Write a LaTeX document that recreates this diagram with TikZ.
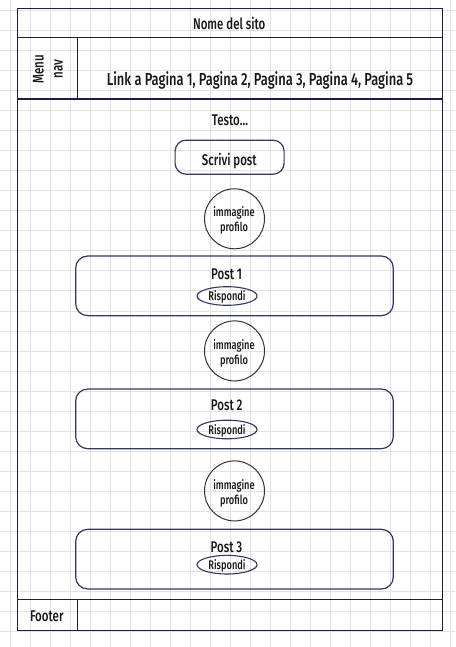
\documentclass[tikz,border=0pt]{standalone}
\usepackage{fontspec}
\setmainfont{Fira Sans}[UprightFont={* Medium}, FakeStretch=0.74]
\usetikzlibrary{shapes.geometric}
\definecolor{navy}{HTML}{1B1E48}
\definecolor{boxc}{HTML}{343860}
\definecolor{circc}{HTML}{333333}
\definecolor{gridc}{HTML}{E2E2E2}
\definecolor{txt}{HTML}{161616}
\tikzset{
  frame/.style={draw=navy, line width=1.3pt},
  gridline/.style={draw=gridc, line width=0.8pt},
  lbl/.style={inner sep=0pt, anchor=base, text=txt, font=\fontsize{15.5}{19}\selectfont},
  small/.style={inner sep=0pt, anchor=base, text=txt, font=\fontsize{12.5}{15}\selectfont},
  postbox/.style={draw=boxc, line width=1.2pt, rounded corners=12pt, minimum width=317.6pt, minimum height=59.7pt, inner sep=0pt},
  writebox/.style={draw=boxc, line width=1.2pt, rounded corners=11pt, minimum width=109pt, minimum height=34pt, inner sep=0pt},
  avatar/.style={draw=circc, line width=1pt, circle, minimum size=60pt, inner sep=0pt},
  reply/.style={draw=boxc, line width=1.1pt, ellipse, minimum width=60pt, minimum height=18.6pt, inner sep=0pt},
}
\begin{document}
\begin{tikzpicture}[x=1pt,y=-1pt]
\useasboundingbox (0,0) rectangle (455,647);
\fill[white] (0,0) rectangle (455,647);
% grid
\foreach \i in {0,...,22} \draw[gridline] (10+20*\i,0) -- (10+20*\i,647);
\foreach \j in {0,...,31} \draw[gridline] (0,10+20.06*\j) -- (455,10+20.06*\j);
% frame
\draw[frame] (17.5,8.3) rectangle (442.5,630.7);
\draw[frame] (17.5,37.7) -- (442.5,37.7);
\draw[frame] (17.5,99) -- (442.5,99);
\draw[frame] (77.3,37.7) -- (77.3,99);
\draw[frame] (17.5,599.3) -- (442.5,599.3);
\draw[frame] (77.3,599.3) -- (77.3,630.7);
% header texts
\node[lbl] (title) at (229.2,30) {Nome del sito};
\node[lbl, anchor=center, rotate=90, align=center, font=\fontsize{15.5}{19}\selectfont] (menu) at (48,69) {Menu\\nav};
\node[lbl, font=\fontsize{17.4}{20}\selectfont] (links) at (260,86) {Link a Pagina 1, Pagina 2, Pagina 3, Pagina 4, Pagina 5};
\node[lbl] (testo) at (230,125.7) {Testo...};
% write post
\node[writebox] (write) at (229.6,157.2) {};
\node[lbl] (writet) at (229.3,165) {Scrivi post};
% avatars
\node[avatar] (av1) at (234.5,218.8) {};
\node[small] (av1a) at (234,216.7) {immagine};
\node[small] (av1b) at (234,231.7) {profilo};
\node[avatar] (av2) at (234.5,350.9) {};
\node[small] (av2a) at (234,349.3) {immagine};
\node[small] (av2b) at (234,364) {profilo};
\node[avatar] (av3) at (234.5,490.9) {};
\node[small] (av3a) at (234,489.3) {immagine};
\node[small] (av3b) at (234,504) {profilo};
% posts
\node[postbox] (p1) at (234.5,285.85) {};
\node[lbl] (p1t) at (226.7,279) {Post 1};
\node[reply] (r1) at (227,296) {};
\node[small] (r1t) at (227,300.5) {Rispondi};
\node[postbox] (p2) at (234.5,418.85) {};
\node[lbl] (p2t) at (226.7,410.7) {Post 2};
\node[reply] (r2) at (227,429.5) {};
\node[small] (r2t) at (227,434) {Rispondi};
\node[postbox] (p3) at (234.5,559.15) {};
\node[lbl] (p3t) at (226.5,552.3) {Post 3};
\node[reply] (r3) at (227,564.7) {};
\node[small] (r3t) at (227,569.2) {Rispondi};
% footer
\node[lbl] (footer) at (46.8,621.7) {Footer};
\end{tikzpicture}
\end{document}
